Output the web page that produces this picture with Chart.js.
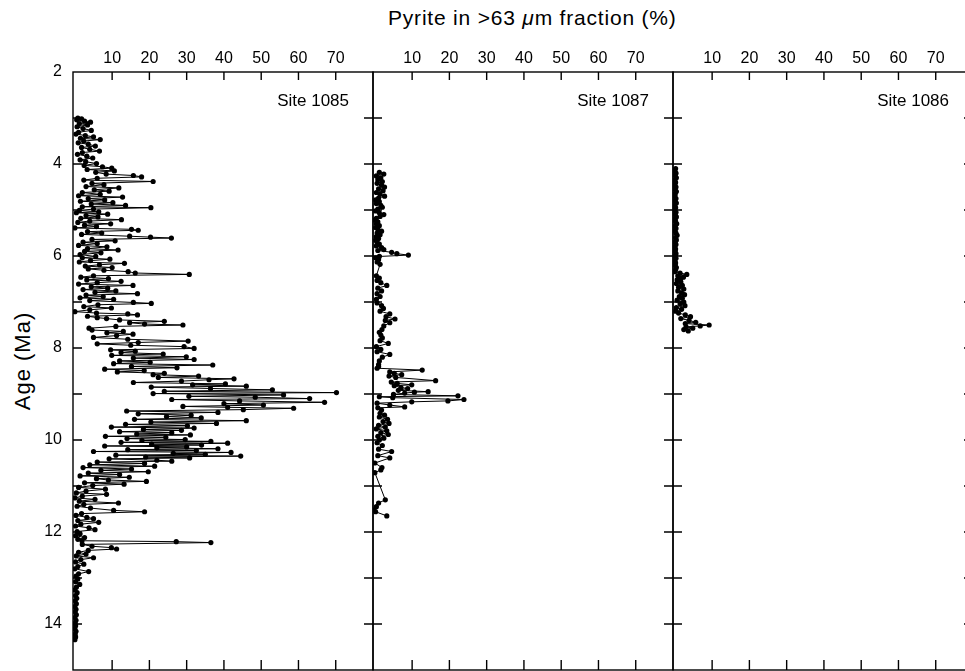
<!DOCTYPE html>
<html lang="en">

<head>
    <meta charset="UTF-8">
    <title>Pyrite in >63 um fraction</title>
    <script src="https://cdn.jsdelivr.net/npm/chart.js"></script>
    <style>
        html, body { margin: 0; padding: 0; background: #fff; overflow: hidden; }
        body { width: 965px; height: 671px; position: relative; font-family: "Liberation Sans", Arial, sans-serif; color: #000; }
        canvas { position: absolute; top: 0; }
        #c1085 { left: 0px; }
        #c1087 { left: 300px; }
        #c1086 { left: 600px; }
        #xTitle { position: absolute; left: 388px; top: 7px; font-size: 21px; line-height: 1; letter-spacing: 0.8px; white-space: nowrap; }
        #yTitle { position: absolute; left: 23px; top: 361px; font-size: 22px; line-height: 1; letter-spacing: 1px; white-space: nowrap;
                  transform: translate(-50%, -50%) rotate(-90deg); }
    </style>
</head>

<body>
    <div id="xTitle">Pyrite in &gt;63 <i>μ</i>m fraction (%)</div>
    <div id="yTitle">Age (Ma)</div>

    <canvas id="c1085" width="380" height="671"></canvas>
    <canvas id="c1087" width="380" height="671"></canvas>
    <canvas id="c1086" width="380" height="671"></canvas>

    <script>
        // eixos
        var xTickVals = [10, 20, 30, 40, 50, 60, 70];
        var ageLabelVals = [2, 4, 6, 8, 10, 12, 14];
        var ageTickVals = [3, 4, 5, 6, 7, 8, 9, 10, 11, 12, 13, 14];

        // Site 1085 (idade em Ma / pirita %)
        var age1085 = [
            3.00, 3.02, 3.04, 3.07, 3.09, 3.12, 3.15, 3.19, 3.23, 3.27, 3.31, 3.35, 3.38, 3.41, 3.44, 3.47, 3.50, 3.54, 3.57, 3.61, 3.64, 3.68, 3.72, 3.75, 3.79, 3.83, 3.87, 3.91, 3.95, 3.99,
            4.03, 4.06, 4.09, 4.12, 4.15, 4.18, 4.22, 4.25, 4.28, 4.31, 4.35, 4.38, 4.42, 4.45, 4.49, 4.52, 4.56, 4.59, 4.62, 4.66, 4.69, 4.72, 4.75, 4.78, 4.81, 4.84, 4.87, 4.90, 4.93, 4.95, 4.98,
            5.01, 5.04, 5.06, 5.09, 5.12, 5.15, 5.18, 5.21, 5.24, 5.27, 5.30, 5.33, 5.36, 5.39, 5.42, 5.44, 5.47, 5.50, 5.53, 5.57, 5.59, 5.61, 5.64, 5.67, 5.70, 5.73, 5.77, 5.80, 5.84, 5.87, 5.90, 5.93, 5.97,
            6.01, 6.04, 6.07, 6.10, 6.13, 6.16, 6.19, 6.22, 6.25, 6.28, 6.31, 6.34, 6.37, 6.40, 6.43, 6.46, 6.49, 6.52, 6.55, 6.58, 6.61, 6.64, 6.67, 6.70, 6.73, 6.76, 6.79, 6.82, 6.85, 6.88, 6.91, 6.94, 6.97,
            7.01, 7.03, 7.06, 7.10, 7.13, 7.17, 7.21, 7.24, 7.26, 7.28, 7.31, 7.34, 7.36, 7.39, 7.42, 7.45, 7.48, 7.50, 7.53, 7.57, 7.61, 7.64, 7.67, 7.70, 7.73, 7.77, 7.81, 7.85, 7.88, 7.91, 7.94, 7.97, 8.01,
            8.04, 8.07, 8.10, 8.13, 8.16, 8.19, 8.22, 8.25, 8.28, 8.31, 8.34, 8.37, 8.40, 8.43, 8.46, 8.49, 8.52, 8.55, 8.58, 8.61, 8.64, 8.67, 8.69, 8.72, 8.75, 8.78, 8.80, 8.83, 8.85, 8.88, 8.91, 8.94, 8.97, 8.99,
            9.02, 9.05, 9.07, 9.10, 9.12, 9.15, 9.18, 9.21, 9.24, 9.27, 9.29, 9.31, 9.34, 9.37, 9.40, 9.43, 9.46, 9.49, 9.52, 9.55, 9.58, 9.61, 9.64, 9.66, 9.69, 9.72, 9.74, 9.77, 9.79, 9.82, 9.84, 9.87, 9.89, 9.92, 9.94, 9.97, 9.99,
            10.01, 10.03, 10.05, 10.07, 10.09, 10.11, 10.13, 10.15, 10.17, 10.19, 10.21, 10.23, 10.25, 10.27, 10.29, 10.31, 10.33, 10.35, 10.37, 10.39, 10.41, 10.44, 10.46, 10.48,
            10.51, 10.54, 10.57, 10.60, 10.63, 10.66, 10.69, 10.72, 10.75, 10.78, 10.81, 10.84, 10.87, 10.90, 10.93, 10.96, 10.99,
            11.03, 11.07, 11.11, 11.15, 11.18, 11.22, 11.26, 11.29, 11.33, 11.37, 11.40, 11.44, 11.48, 11.53, 11.56, 11.60, 11.64, 11.68, 11.71, 11.75, 11.79, 11.83, 11.87, 11.91, 11.95, 11.99,
            12.04, 12.08, 12.12, 12.16, 12.19, 12.21, 12.23, 12.27, 12.31, 12.34, 12.37, 12.40, 12.44, 12.48, 12.52, 12.56, 12.60, 12.65, 12.70, 12.75, 12.80, 12.86, 12.91, 12.96,
            13.02, 13.08, 13.14, 13.20, 13.26, 13.32, 13.38, 13.44, 13.50, 13.56, 13.62, 13.68, 13.74, 13.80, 13.86, 13.92, 13.98, 14.04, 14.10, 14.16, 14.22, 14.28, 14.34
        ];
        var pyr1085 = [
            0.8, 1.8, 0.5, 2.6, 4.2, 1.2, 3.4, 0.6, 2.2, 4.4, 1.0, 0.3, 2.8, 5.0, 1.5, 6.8, 2.4, 0.9, 3.6, 5.5, 1.8, 4.0, 6.6, 2.0, 0.7, 3.2, 4.8, 1.4, 2.9, 5.8,
            2.5, 7.4, 9.9, 3.3, 10.6, 5.6, 8.4, 15.7, 17.9, 6.0, 2.4, 21.0, 4.6, 7.8, 3.0, 11.8, 5.2, 9.2, 2.0, 6.8, 1.0, 12.8, 3.6, 8.0, 1.5, 10.2, 4.4, 13.6, 2.0, 20.4, 5.0,
            1.2, 6.4, 0.4, 8.8, 3.0, 6.2, 1.6, 12.5, 4.0, 0.8, 9.6, 2.6, 5.8, 0.0, 15.2, 17.0, 3.4, 7.2, 1.8, 14.7, 20.3, 25.9, 4.6, 10.8, 2.2, 6.0, 1.0, 8.6, 3.4, 11.6, 2.6, 7.0, 1.4,
            5.6, 2.0, 9.4, 4.2, 1.2, 13.3, 6.6, 2.8, 10.0, 3.6, 7.8, 14.3, 16.2, 30.7, 5.0, 1.6, 9.0, 3.2, 12.4, 6.0, 1.0, 15.6, 4.4, 8.8, 2.2, 11.0, 5.4, 16.8, 3.0, 7.6, 1.4, 10.4, 4.0,
            15.7, 20.5, 6.2, 2.4, 9.8, 4.0, 0.0, 5.8, 14.2, 16.8, 3.4, 6.0, 8.5, 12.0, 24.0, 14.7, 18.7, 29.0, 11.0, 3.8, 4.6, 13.0, 8.6, 15.6, 11.2, 5.0, 14.2, 30.4, 17.0, 6.0, 15.0, 29.3, 32.0,
            9.6, 16.2, 12.4, 23.7, 9.9, 29.9, 15.7, 32.0, 12.0, 20.2, 10.4, 37.0, 15.2, 27.4, 8.0, 18.6, 11.4, 24.0, 21.0, 33.2, 22.4, 42.7, 36.0, 28.6, 15.7, 40.4, 31.6, 46.0, 20.5, 36.4, 53.0, 24.0, 70.2, 21.0,
            56.0, 30.6, 48.4, 63.0, 26.0, 44.2, 67.0, 40.0, 50.6, 29.0, 41.0, 58.7, 45.2, 13.9, 38.4, 17.0, 31.2, 24.6, 33.9, 16.0, 46.0, 20.4, 38.0, 13.6, 30.2, 9.8, 32.0, 18.4, 28.6, 12.0, 26.0, 16.6, 31.0, 8.2, 24.4, 14.0, 29.6,
            18.0, 36.5, 12.4, 41.0, 20.6, 34.0, 8.0, 30.0, 22.0, 38.4, 14.2, 32.6, 5.0, 41.9, 26.4, 35.0, 11.0, 44.5, 19.0, 30.8, 9.2, 22.0, 26.0, 6.0,
            18.7, 4.0, 21.4, 2.2, 15.2, 7.0, 19.7, 3.6, 12.0, 1.4, 14.6, 5.8, 9.0, 19.2, 2.6, 13.2, 4.8,
            1.0, 8.2, 3.0, 0.4, 8.5, 2.0, 0.0, 5.4, 1.2, 11.7, 2.4, 0.6, 4.2, 10.4, 18.7, 1.8, 0.3, 3.2, 5.0, 0.8, 6.4, 1.6, 0.2, 3.8, 5.4, 0.6,
            1.4, 0.2, 2.6, 0.8, 1.9, 27.2, 36.5, 2.0, 4.6, 9.8, 11.2, 3.6, 1.0, 3.0, 0.4, 5.0, 1.6, 0.2, 2.4, 0.8, 0.0, 3.7, 1.0, 0.3,
            0.8, 0.2, 1.3, 0.4, 0.0, 0.6, 0.2, 0.5, 0.1, 0.4, 0.0, 0.3, 0.1, 0.4, 0.0, 0.3, 0.1, 0.2, 0.0, 0.3, 0.1, 0.2, 0.0
        ];

        // Site 1087
        var age1087 = [
            4.18, 4.22, 4.26, 4.30, 4.34, 4.38, 4.42, 4.46, 4.50, 4.54, 4.58, 4.62, 4.66, 4.70, 4.74, 4.78, 4.82, 4.86, 4.90, 4.94, 4.98,
            5.02, 5.06, 5.10, 5.14, 5.18, 5.22, 5.26, 5.30, 5.34, 5.38, 5.42, 5.46, 5.50, 5.54, 5.58, 5.62, 5.66, 5.70, 5.74, 5.78, 5.82, 5.86,
            5.88, 5.92, 5.95, 5.98, 6.01, 6.04, 6.08, 6.13, 6.18,
            6.43, 6.48, 6.53, 6.58, 6.64, 6.70, 6.76, 6.82, 6.88, 6.94,
            7.02, 7.08, 7.14, 7.20, 7.26, 7.32, 7.37, 7.40, 7.45, 7.52, 7.60, 7.66, 7.72, 7.78, 7.84, 7.90,
            7.97, 8.03, 8.08, 8.14, 8.20, 8.28, 8.36, 8.40,
            8.44, 8.48, 8.52, 8.55, 8.58, 8.61, 8.64, 8.71, 8.74, 8.77, 8.80, 8.82, 8.86, 8.88, 8.92, 8.95, 8.96, 8.98, 9.01, 9.04, 9.06, 9.08, 9.12, 9.15, 9.17, 9.20, 9.24, 9.28, 9.30, 9.35, 9.42, 9.46,
            9.50, 9.55, 9.60, 9.64, 9.68, 9.72, 9.76, 9.80, 9.84, 9.88, 9.92, 9.96, 10.00,
            10.06, 10.12, 10.20, 10.25, 10.34, 10.39, 10.50, 10.60, 10.65, 10.71, 11.30, 11.37, 11.45, 11.52, 11.56, 11.65
        ];
        var pyr1087 = [
            1.2, 2.4, 0.4, 1.6, 0.8, 2.0, 0.6, 1.8, 2.6, 1.0, 2.2, 0.4, 1.4, 2.6, 1.0, 0.2, 1.2, 0.4, 1.6, 2.0, 0.8,
            0.2, 1.2, 2.4, 1.4, 0.4, 0.0, 0.8, 0.4, 1.2, 0.2, 0.8, 1.8, 0.6, 1.4, 0.4, 1.0, 0.2, 0.6, 1.2, 0.4, 1.8, 2.4,
            0.8, 4.5, 5.9, 9.0, 1.2, 0.2, 1.0, 0.6, 1.4,
            0.4, 1.2, 0.6, 1.6, 3.2, 0.8, 1.8, 0.6, 1.4, 0.4,
            0.6, 1.8, 2.3, 1.4, 4.0, 3.0, 5.4, 2.8, 4.0, 2.4, 1.9, 1.2, 1.6, 2.0, 1.4, 3.6,
            0.4, 1.6, 0.6, 4.0, 2.0, 1.2, 1.0, 1.0,
            0.6, 12.7, 4.0, 5.2, 7.2, 3.8, 5.6, 16.3, 4.4, 6.0, 9.9, 5.2, 7.0, 8.8, 6.3, 14.3, 10.6, 8.0, 5.0, 22.3, 1.2, 4.8, 23.9, 19.6, 9.9, 0.6, 4.0, 8.0, 0.8, 1.8, 1.4, 2.6,
            1.2, 3.4, 2.2, 3.8, 1.0, 2.8, 0.4, 3.2, 1.6, 3.6, 0.8, 2.4, 1.2,
            0.6, 2.0, 1.0, 4.5, 0.8, 4.0, 0.0, 1.9, 1.6, 0.0, 2.8, 1.0, 0.4, -0.2, 0.2, 3.2
        ];

        // Site 1086
        var age1086 = [
            4.10, 4.15, 4.20, 4.25, 4.30, 4.35, 4.40, 4.45, 4.50, 4.55, 4.60, 4.65, 4.70, 4.75, 4.80, 4.85, 4.90, 4.95, 5.00, 5.05, 5.10, 5.15, 5.20,
            5.25, 5.30, 5.35, 5.40, 5.45, 5.50, 5.55, 5.60, 5.65, 5.70, 5.75, 5.80, 5.85, 5.90, 5.95, 6.00, 6.05, 6.10, 6.15, 6.20, 6.25, 6.30,
            6.34, 6.37, 6.40, 6.43, 6.46, 6.49, 6.52,
            6.56, 6.60, 6.64, 6.68, 6.72, 6.76, 6.80, 6.84, 6.88, 6.92, 6.96, 7.00, 7.04, 7.08, 7.12, 7.16,
            7.20, 7.24, 7.28, 7.32, 7.36, 7.40, 7.44, 7.47, 7.50, 7.52, 7.54, 7.57, 7.60, 7.63
        ];
        var pyr1086 = [
            0.2, 0.0, 0.3, 0.1, 0.4, 0.0, 0.2, 0.0, 0.3, 0.1, 0.4, 0.1, 0.0, 0.3, 0.1, 0.4, 0.0, 0.2, 0.0, 0.3, 0.1, 0.4, 0.1,
            0.2, 0.5, 0.1, 0.3, 0.0, 0.3, 0.6, 0.2, 0.4, 0.1, 0.3, 0.0, 0.2, 0.1, 0.3, 0.1, 0.3, 0.0, 0.2, 0.1, 0.4, 0.2,
            0.0, 1.4, 3.2, 0.8, 2.3, 1.6, 0.6,
            1.6, 0.4, 2.0, 1.0, 2.4, 0.8, 1.8, 2.6, 1.2, 2.0, 0.6, 2.4, 1.4, 2.7, 0.4, 1.8,
            0.2, 1.0, 2.8, 4.2, 1.6, 3.8, 5.6, 2.8, 9.2, 6.8, 3.0, 4.8, 2.4, 3.6
        ];

        var fonte = '"Liberation Sans", Arial, sans-serif';

        // moldura, ticks para dentro e nome do site
        var molduraPlugin = {
            id: 'moldura',
            afterDatasetsDraw(chart, args, opts) {
                var ctx = chart.ctx;
                var a = chart.chartArea;
                var sx = chart.scales.x;
                var sy = chart.scales.y;
                ctx.save();
                ctx.strokeStyle = '#000';
                ctx.lineWidth = 1.4;
                ctx.strokeRect(a.left, a.top, a.right - a.left, a.bottom - a.top);
                ctx.beginPath();
                xTickVals.forEach(function (v) {
                    var px = sx.getPixelForValue(v);
                    ctx.moveTo(px, a.top); ctx.lineTo(px, a.top + 8);
                    ctx.moveTo(px, a.bottom); ctx.lineTo(px, a.bottom - 10);
                });
                ageTickVals.forEach(function (v) {
                    var py = sy.getPixelForValue(v);
                    ctx.moveTo(opts.primeiro ? a.left : a.left - 9, py);
                    ctx.lineTo(a.left + 9, py);
                    if (opts.ultimo) {
                        ctx.moveTo(a.right - 9, py);
                        ctx.lineTo(a.right + 9, py);
                    }
                });
                ctx.stroke();
                ctx.fillStyle = '#000';
                ctx.font = '17px ' + fonte;
                ctx.textAlign = 'right';
                ctx.textBaseline = 'alphabetic';
                ctx.fillText(opts.site, a.right - 24, a.top + 34);
                ctx.restore();
            }
        };

        function plotarPainel(idCanvas, idades, valores, site, indice) {
            var pontos = [];
            for (var i = 0; i < idades.length; i++) {
                pontos.push({ x: valores[i], y: idades[i] });
            }

            var primeiro = indice === 0;
            var config = {
                type: 'scatter',
                data: {
                    datasets: [{
                        data: pontos,
                        showLine: true,
                        borderColor: '#000',
                        borderWidth: 1,
                        pointRadius: 2.6,
                        pointBackgroundColor: '#000',
                        pointBorderWidth: 0
                    }]
                },
                options: {
                    responsive: false,
                    animation: false,
                    devicePixelRatio: 1,
                    events: [],
                    layout: {
                        // o eixo y (mesmo escondido) ocupa 73px à esquerda
                        autoPadding: false,
                        padding: { left: 0, right: 7, top: 0, bottom: 1 }
                    },
                    plugins: {
                        legend: { display: false },
                        tooltip: { enabled: false },
                        moldura: { site: site, primeiro: primeiro, ultimo: indice === 2 }
                    },
                    scales: {
                        x: {
                            type: 'linear',
                            position: 'top',
                            min: -0.5,
                            max: 80,
                            afterBuildTicks: function (axis) {
                                axis.ticks = xTickVals.map(function (v) { return { value: v }; });
                            },
                            afterFit: function (axis) {
                                axis.height = 72;
                                axis.paddingLeft = 0;
                                axis.paddingRight = 0;
                            },
                            grid: { display: false, drawTicks: false },
                            border: { display: false },
                            ticks: { padding: 4, autoSkip: false, maxRotation: 0, color: '#000', font: { family: fonte, size: 16 } }
                        },
                        y: {
                            type: 'linear',
                            reverse: true,
                            min: 2,
                            max: 15,
                            display: primeiro,
                            afterBuildTicks: function (axis) {
                                axis.ticks = ageLabelVals.map(function (v) { return { value: v }; });
                            },
                            afterFit: function (axis) {
                                axis.width = 73;
                                // sem folga extra para os rótulos
                                axis.paddingTop = 0;
                                axis.paddingBottom = 0;
                            },
                            grid: { display: false, drawTicks: false },
                            border: { display: false },
                            ticks: { padding: 11, color: '#000', font: { family: fonte, size: 16 } }
                        }
                    }
                },
                plugins: [molduraPlugin]
            };

            return new Chart(document.getElementById(idCanvas).getContext('2d'), config);
        }

        plotarPainel('c1085', age1085, pyr1085, 'Site 1085', 0);
        plotarPainel('c1087', age1087, pyr1087, 'Site 1087', 1);
        plotarPainel('c1086', age1086, pyr1086, 'Site 1086', 2);
    </script>
</body>

</html>
